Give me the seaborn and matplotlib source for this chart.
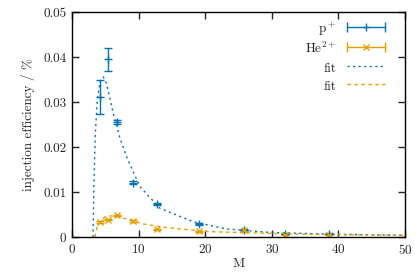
import numpy as np
import pandas as pd
import seaborn as sns
import matplotlib
matplotlib.use('Agg')
import matplotlib.pyplot as plt
from matplotlib.lines import Line2D
from matplotlib.legend_handler import HandlerLine2D

# measured points
M_p = [4.2, 5.45, 6.7, 9.2, 12.8, 19.1, 25.8, 32.0, 38.6]
eff_p = [0.0312, 0.0395, 0.0256, 0.0121, 0.0074, 0.0029, 0.0015, 0.0007, 0.0007]
err_p = [0.0038, 0.0026, 0.0005, 0.0003, 0.0002, 0.0002, 0.0002, 0.0001, 0.0001]

M_he = [4.2, 5.4, 6.7, 9.1, 12.8, 19.1, 25.8, 32.0, 38.6]
eff_he = [0.0034, 0.0039, 0.0048, 0.0036, 0.0017, 0.0013, 0.0015, 0.0005, 0.0005]
err_he = [0.0002, 0.0002, 0.0002, 0.0002, 0.0001, 0.0001, 0.0001, 0.0001, 0.0001]

# fit curves
fit_M_p = [3.15, 3.3, 3.5, 3.8, 4.2, 4.7, 5.2, 6.2, 7.2, 8.2, 10.2, 13.2, 18.2, 23.2, 30, 40, 50]
fit_p = [0.0, 0.012, 0.023, 0.0305, 0.0345, 0.0356, 0.0340, 0.0275, 0.0220, 0.0178, 0.0112, 0.0064,
         0.0034, 0.0018, 0.0010, 0.0006, 0.0004]

fit_M_he = [3.45, 3.7, 4.0, 4.5, 5.0, 5.8, 6.6, 8.0, 10.7, 14.2, 20.7, 30, 40, 50]
fit_he = [0.0, 0.0018, 0.0030, 0.0040, 0.0045, 0.0047, 0.0046, 0.0041, 0.0029, 0.0021, 0.0012,
          0.0008, 0.0005, 0.0004]

blue = '#0072b2'
orange = '#e69f00'

sns.set_style('ticks')
plt.rcParams['font.family'] = ['cmr10']
plt.rcParams['mathtext.fontset'] = 'cm'
plt.rcParams['axes.formatter.use_mathtext'] = True
plt.rcParams['font.size'] = 9.5

fig = plt.figure(figsize=(4.15, 2.75), dpi=100)
ax = fig.add_axes([0.1735, 0.138, 0.8025, 0.818])

ax.errorbar(M_p, eff_p, yerr=err_p, fmt='+', color=blue, ms=6, mew=1, lw=1,
            capsize=3, capthick=1)
ax.errorbar(M_he, eff_he, yerr=err_he, fmt='x', color=orange, ms=4, mew=1, lw=1,
            capsize=3, capthick=1)

df_p = pd.DataFrame({'M': fit_M_p, 'eff': fit_p})
df_he = pd.DataFrame({'M': fit_M_he, 'eff': fit_he})
sns.lineplot(data=df_p, x='M', y='eff', ax=ax, color=blue, lw=1, ls=(0, (1.5, 2.5)), legend=False)
sns.lineplot(data=df_he, x='M', y='eff', ax=ax, color=orange, lw=1, ls=(0, (2.5, 2.5)), legend=False)

ax.set_xlim(0, 50)
ax.set_ylim(0, 0.05)
ax.set_xticks([0, 10, 20, 30, 40, 50])
ax.set_yticks([0, 0.01, 0.02, 0.03, 0.04, 0.05])
ax.set_yticklabels(['0', '0.01', '0.02', '0.03', '0.04', '0.05'])
ax.tick_params(direction='in', top=True, right=True, length=5, width=1, labelsize=9.5, pad=4)
for s in ax.spines.values():
    s.set_linewidth(1)
    s.set_color('black')
ax.set_xlabel('M', labelpad=1)
ax.set_ylabel('injection efficiency / %', labelpad=6)

# gnuplot-like legend samples: horizontal bar with caps and marker in the middle
p_line = Line2D([], [], color=blue, lw=1, marker='+', ms=6, mew=1)
p_caps = Line2D([], [], color=blue, ls='none', marker='|', ms=7, mew=1)
he_line = Line2D([], [], color=orange, lw=1, marker='x', ms=4, mew=1)
he_caps = Line2D([], [], color=orange, ls='none', marker='|', ms=7, mew=1)
fit_p_h = Line2D([], [], color=blue, lw=1, ls=(0, (1.5, 2.5)))
fit_he_h = Line2D([], [], color=orange, lw=1, ls=(0, (2.5, 2.5)))
caps_handler = HandlerLine2D(numpoints=2, marker_pad=0)

ax.legend([(p_line, p_caps), (he_line, he_caps), fit_p_h, fit_he_h],
          ['p$^+$', 'He$^{2+}$', 'fit', 'fit'],
          handler_map={p_caps: caps_handler, he_caps: caps_handler},
          loc='upper right', bbox_to_anchor=(0.955, 0.985), borderaxespad=0,
          markerfirst=False, frameon=False, handlelength=2.9, handleheight=1.45,
          labelspacing=0.2, fontsize=9.5, numpoints=1)

fig.savefig('out.png', dpi=100)
